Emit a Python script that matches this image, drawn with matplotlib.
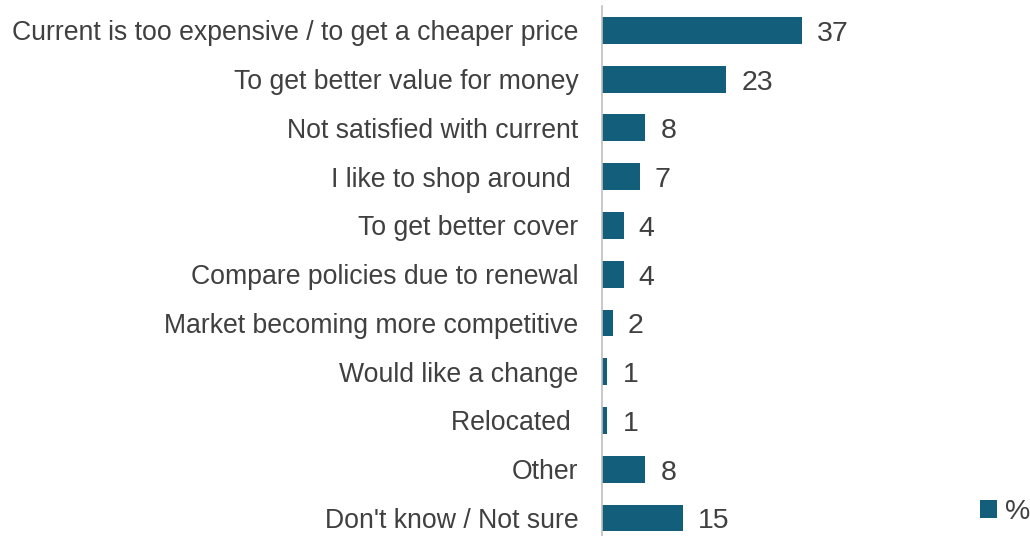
import matplotlib.pyplot as plt

plt.rcParams['font.family'] = ['Liberation Sans', 'DejaVu Sans']

# Reasons for shopping around, % of respondents
reasons = [
    "Current is too expensive / to get a cheaper price",
    "To get better value for money",
    "Not satisfied with current",
    "I like to shop around ",
    "To get better cover",
    "Compare policies due to renewal",
    "Market becoming more competitive",
    "Would like a change",
    "Relocated ",
    "Other",
    "Don't know / Not sure",
]
values = [37, 23, 8, 7, 4, 4, 2, 1, 1, 8, 15]

bar_color = "#135e7a"
text_color = "#404040"

fig = plt.figure(figsize=(10.30, 5.36), dpi=100)
ax = fig.add_axes([602 / 1030, 0.0, (1030 - 602) / 1030, (536 - 6) / 536])

y = list(range(len(reasons)))
bars = ax.barh(y, values, height=0.55, color=bar_color, label="%")
ax.set_ylim(10 + 18 / 48.7, -0.5)
ax.set_xlim(0, (1030 - 602) / 5.4)

# value labels just right of each bar (digits sit a touch low)
for yi, v in zip(y, values):
    ax.text(v + 2.8, yi + 0.07, str(v), va="center", ha="left",
            fontsize=20.5, color=text_color)

ax.set_yticks(y)
ax.set_yticklabels(reasons, fontsize=19.2, color=text_color)
ax.tick_params(axis="y", length=0, pad=17)
ax.set_xticks([])

for side in ["top", "right", "bottom"]:
    ax.spines[side].set_visible(False)
ax.spines["left"].set_color("#bfbfbf")
ax.spines["left"].set_linewidth(1.2)

leg = fig.legend(handles=[bars], labels=["%"], loc="lower right",
                 bbox_to_anchor=(1.017, -0.012), frameon=False, fontsize=20.5,
                 handlelength=0.6, handleheight=0.6, handletextpad=0.3,
                 borderaxespad=0.2)
for t in leg.get_texts():
    t.set_color(text_color)

fig.savefig("out.png", dpi=100)
